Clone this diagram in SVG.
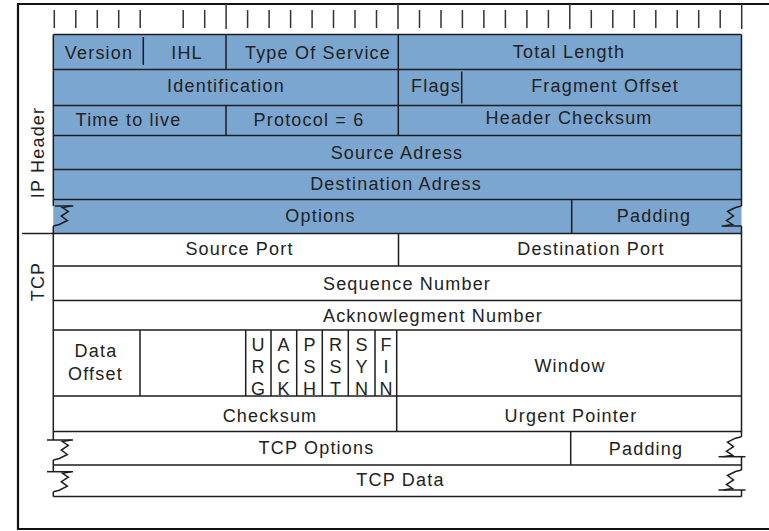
<svg xmlns="http://www.w3.org/2000/svg" xmlns:xlink="http://www.w3.org/1999/xlink" width="769" height="531" viewBox="0 0 769 531">
<style>
text{font-family:"Liberation Sans",Arial,sans-serif;font-size:18px;fill:#222;letter-spacing:1.2px;text-anchor:middle}
.ln{stroke:#1e1e1e;stroke-width:1.5;fill:none}
.tk{stroke:#333;stroke-width:1.5;fill:none}
.ip{fill:#7aa6d0}
.tcp{fill:#fff}
</style>
<defs>
<path id="brk" d="M18,0 L9,1.5 L15,5.5 L8,10 L14,14.5 L6,18.5 L0,20" fill="none" stroke="#1e1e1e" stroke-width="1.5"/>
</defs>
<rect width="769" height="531" fill="#fff"/>
<g id="frame">
<path d="M800,4 H18 V529 H800" fill="none" stroke="#111" stroke-width="2.2"/>
<path class="ln" d="M22,233.5 H53"/>
<text transform="translate(44,152.5) rotate(-90)">IP Header</text>
<text transform="translate(43.5,281.5) rotate(-90)">TCP</text>
</g>
<g id="ruler">
<path class="tk" d="M54.3,10V28 M75.8,10V28 M97.3,10V28 M118.7,10V28 M140.2,10V28 M183.2,10V28 M204.7,10V28 M226.1,4V29 M247.6,10V28 M269.1,10V28 M290.6,10V28 M312.1,10V28 M333.5,10V28 M355,10V28 M376.5,10V28 M398,4V29 M419.5,10V28 M441,10V28 M462.4,10V28 M483.9,10V28 M505.4,10V28 M526.9,10V28 M548.4,10V28 M569.8,4V29 M591.3,10V28 M612.8,10V28 M634.3,10V28 M655.8,10V28 M677.2,10V28 M698.7,10V28 M720.2,10V28 M741.7,4V29"/>
</g>
<g id="ip-header">
<rect class="ip" x="53.3" y="34.5" width="688.2" height="199"/>
<g id="version"><text x="99" y="59">Version</text></g>
<g id="ihl"><text x="187" y="59">IHL</text></g>
<g id="tos"><text x="318" y="59">Type Of Service</text></g>
<g id="total-length"><text x="569" y="57.5">Total Length</text></g>
<g id="identification"><text x="226" y="91.5">Identification</text></g>
<g id="flags"><text x="436" y="91.5">Flags</text></g>
<g id="fragment-offset"><text x="605" y="91.5">Fragment Offset</text></g>
<g id="ttl"><text x="128.5" y="126">Time to live</text></g>
<g id="protocol"><text x="309" y="126">Protocol = 6</text></g>
<g id="header-checksum"><text x="569" y="123.5">Header Checksum</text></g>
<g id="source-address"><text x="397" y="158.5">Source Adress</text></g>
<g id="destination-address"><text x="396" y="190">Destination Adress</text></g>
<g id="ip-options"><text x="320.5" y="222">Options</text></g>
<g id="ip-padding"><text x="654" y="221.5">Padding</text></g>
</g>
<g id="tcp-header">
<g id="source-port"><text x="239.5" y="255">Source Port</text></g>
<g id="destination-port"><text x="591" y="255">Destination Port</text></g>
<g id="sequence-number"><text x="407" y="289.5">Sequence Number</text></g>
<g id="ack-number"><text x="433" y="321.5">Acknowlegment Number</text></g>
<g id="data-offset"><text x="96" y="356.5">Data</text><text x="95.5" y="380">Offset</text></g>
<g id="urg"><text x="258.5" y="351">U</text><text x="258.5" y="373">R</text><text x="258.5" y="395">G</text></g>
<g id="ack"><text x="284" y="351">A</text><text x="284" y="373">C</text><text x="284" y="395">K</text></g>
<g id="psh"><text x="310" y="351">P</text><text x="310" y="373">S</text><text x="310" y="395">H</text></g>
<g id="rst"><text x="336" y="351">R</text><text x="336" y="373">S</text><text x="336" y="395">T</text></g>
<g id="syn"><text x="362" y="351">S</text><text x="362" y="373">Y</text><text x="362" y="395">N</text></g>
<g id="fin"><text x="386.5" y="351">F</text><text x="386.5" y="373">I</text><text x="386.5" y="395">N</text></g>
<g id="window"><text x="570" y="371.5">Window</text></g>
<g id="checksum"><text x="270" y="422">Checksum</text></g>
<g id="urgent-pointer"><text x="571" y="421.5">Urgent Pointer</text></g>
<g id="tcp-options"><text x="316.5" y="454">TCP Options</text></g>
<g id="tcp-padding"><text x="646" y="455">Padding</text></g>
<g id="tcp-data"><text x="400.5" y="485.5">TCP Data</text></g>
</g>
<g id="connectors">
<path class="ln" d="M53.3,34.5 H741.5 M53.3,69.5 H741.5 M53.3,105.5 H741.5 M53.3,135.5 H741.5 M53.3,169.5 H741.5 M53.3,199.5 H741.5 M53.3,233.5 H741.5 M53.3,266 H741.5 M53.3,300.5 H741.5 M53.3,330 H741.5 M53.3,396 H741.5 M53.3,431.5 H741.5 M53.3,465 H741.5 M53.3,496.5 H741.5"/>
<path class="ln" d="M53.3,34.5 V206 M53.3,226 V440 M53.3,460 V471.7 M53.3,491.7 V496.5"/>
<path class="ln" d="M741.5,34.5 V206 M741.5,226 V436.7 M741.5,456.7 V470 M741.5,490 V496.5"/>
<path class="ln" d="M143.3,37 V65 M226,34.5 V69.5 M398.3,34.5 V135.5 M461.7,71.5 V103.5 M226,105.5 V135.5 M571.7,199.5 V233.5 M398.5,233.5 V266 M140,330 V396 M245.7,330 V396 M271,330 V396 M296.7,330 V396 M322.3,330 V396 M348.3,330 V396 M375,330 V396 M396.7,330 V431.5 M570.7,431.5 V465"/>
<use xlink:href="#brk" transform="translate(53.3,206)"/>
<path class="ln" d="M55,206 H73.3"/>
<use xlink:href="#brk" transform="translate(741.5,226) rotate(180)"/>
<path class="ln" d="M721.5,226 H741.5"/>
<use xlink:href="#brk" transform="translate(53.3,440)"/>
<path class="ln" d="M47,440 H73"/>
<use xlink:href="#brk" transform="translate(53.3,471.7)"/>
<path class="ln" d="M47,471.7 H73"/>
<use xlink:href="#brk" transform="translate(741.5,456.7) rotate(180)"/>
<path class="ln" d="M718.5,456.7 H745.5"/>
<use xlink:href="#brk" transform="translate(741.5,490) rotate(180)"/>
<path class="ln" d="M718.5,490 H745.5"/>
</g>
</svg>
